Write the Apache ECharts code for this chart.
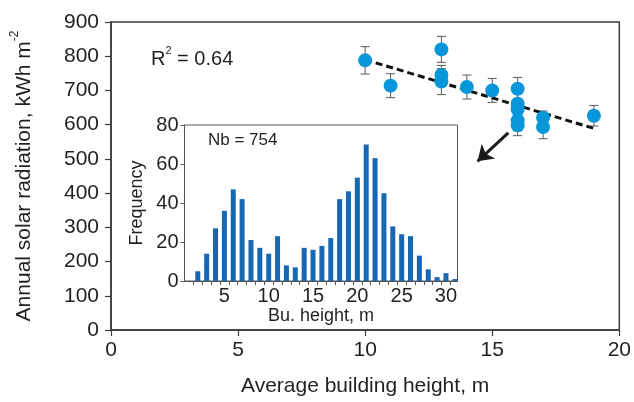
<!DOCTYPE html>
<html><head><meta charset="utf-8">
<script src="https://cdn.jsdelivr.net/npm/echarts@6/dist/echarts.min.js"></script>
<style>html,body{margin:0;padding:0;background:#fff}#c{width:634px;height:402px}</style>
</head><body><div id="c"></div>
<script>
// Main scatter: average building height vs annual solar radiation
const mainX = [10, 11, 13, 13, 13, 14, 15, 16, 16, 16, 16, 16, 17, 17, 19];
const mainY = [788, 714, 820, 745, 726, 710, 700, 705, 661, 645, 612, 598, 620, 593, 626];
const mainErr = [40, 35, 38, 28, 38, 35, 35, 33, 30, 30, 30, 30, 20, 34, 30];
const fitX = [10, 19];
const fitY = [790, 589];
const arrowX = [15.63, 14.42];
const arrowY = [576, 493];
const mainXTicks = [0, 5, 10, 15, 20];
const mainYTicks = [0, 100, 200, 300, 400, 500, 600, 700, 800, 900];
// Inset histogram
const binCenters = [2,3,4,5,6,7,8,9,10,11,12,13,14,15,16,17,18,19,20,21,22,23,24,25,26,27,28,29,30,31];
const binCounts = [5,14,27,36,47,42,21,17,14,23,8,7,17,16,18,22,42,46,53,70,63,45,28,24,23,13,6,2,4,1];
const insetXLabels = [5, 10, 15, 20, 25, 30];
const insetYTicks = [0, 20, 40, 60, 80];

const FONT = 'Liberation Sans, Arial, sans-serif';
const TXT = '#231f20';
const AX = '#3a3a3a';

const chart = echarts.init(document.getElementById('c'), null, {renderer: 'canvas'});

const scatterData = mainX.map((x, i) => [x, mainY[i]]);
const errData = mainX.map((x, i) => [x, mainY[i] - mainErr[i], mainY[i] + mainErr[i]]);
const binEdges = binCenters.map(b => b - 0.5).concat([binCenters[binCenters.length - 1] + 0.5]);

chart.setOption({
  animation: false,
  backgroundColor: '#fff',
  textStyle: {fontFamily: FONT, color: TXT},
  grid: [
    {left: 111, top: 22, width: 510, height: 308.5, show: true, borderColor: AX, borderWidth: 1.5, backgroundColor: 'transparent'},
    {left: 184.5, top: 125, width: 273, height: 156, show: true, borderColor: '#555', borderWidth: 1, backgroundColor: '#fff'}
  ],
  xAxis: [
    {
      gridIndex: 0, type: 'value', min: mainXTicks[0], max: mainXTicks[mainXTicks.length - 1], interval: 5,
      axisLine: {show: true, lineStyle: {color: AX, width: 1.5}},
      axisTick: {show: true, inside: false, length: 6, lineStyle: {color: AX, width: 1.2}},
      axisLabel: {fontSize: 21, color: TXT, margin: 10, fontFamily: FONT},
      splitLine: {show: false},
      name: 'Average building height, m', nameLocation: 'middle', nameGap: 46,
      nameTextStyle: {fontSize: 21, color: TXT, fontFamily: FONT}
    },
    {
      gridIndex: 1, type: 'value', min: 0.5, max: 31.3,
      axisLine: {show: true, lineStyle: {color: '#555', width: 1}},
      axisTick: {show: true, inside: false, length: 4, lineStyle: {color: '#555', width: 1}, customValues: binEdges},
      axisLabel: {fontSize: 20, color: TXT, margin: 5, fontFamily: FONT, customValues: insetXLabels},
      splitLine: {show: false},
      name: 'Bu. height, m', nameLocation: 'middle', nameGap: 24,
      nameTextStyle: {fontSize: 18, color: TXT, fontFamily: FONT}
    }
  ],
  yAxis: [
    {
      gridIndex: 0, type: 'value', min: mainYTicks[0], max: mainYTicks[mainYTicks.length - 1], interval: 100,
      axisLine: {show: true, lineStyle: {color: AX, width: 1.5}},
      axisTick: {show: true, inside: false, length: 6, lineStyle: {color: AX, width: 1.2}},
      axisLabel: {fontSize: 21, color: TXT, margin: 12, fontFamily: FONT},
      splitLine: {show: false},
      name: '{a|Annual solar radiation, kWh m}{s|-2}', nameLocation: 'middle', nameGap: 76, nameRotate: 90,
      nameTextStyle: {
        fontSize: 21, color: TXT, fontFamily: FONT,
        rich: {
          a: {fontSize: 21, color: TXT, fontFamily: FONT, lineHeight: 26, verticalAlign: 'bottom'},
          s: {fontSize: 12, color: TXT, fontFamily: FONT, lineHeight: 26, verticalAlign: 'top'}
        }
      }
    },
    {
      gridIndex: 1, type: 'value', min: insetYTicks[0], max: insetYTicks[insetYTicks.length - 1], interval: 20,
      axisLine: {show: true, lineStyle: {color: '#555', width: 1}},
      axisTick: {show: true, inside: false, length: 4, lineStyle: {color: '#555', width: 1}},
      axisLabel: {fontSize: 20, color: TXT, margin: 6, fontFamily: FONT},
      splitLine: {show: false},
      name: 'Frequency', nameLocation: 'middle', nameGap: 38, nameRotate: 90,
      nameTextStyle: {fontSize: 18, color: TXT, fontFamily: FONT}
    }
  ],
  series: [
    {
      type: 'custom', xAxisIndex: 0, yAxisIndex: 0, z: 2,
      data: errData,
      renderItem: function (params, api) {
        const x = api.value(0);
        const lo = api.coord([x, api.value(1)]);
        const hi = api.coord([x, api.value(2)]);
        const hw = 4.5;
        const st = {stroke: '#666', lineWidth: 1.1};
        return {
          type: 'group',
          children: [
            {type: 'line', shape: {x1: lo[0], y1: lo[1], x2: hi[0], y2: hi[1]}, style: st},
            {type: 'line', shape: {x1: lo[0] - hw, y1: lo[1], x2: lo[0] + hw, y2: lo[1]}, style: st},
            {type: 'line', shape: {x1: hi[0] - hw, y1: hi[1], x2: hi[0] + hw, y2: hi[1]}, style: st}
          ]
        };
      }
    },
    {
      type: 'line', xAxisIndex: 0, yAxisIndex: 0, z: 3,
      data: fitX.map((x, i) => [x, fitY[i]]),
      symbol: 'none',
      lineStyle: {color: '#111', width: 3, type: [7, 4]}
    },
    {
      type: 'scatter', xAxisIndex: 0, yAxisIndex: 0, z: 4,
      data: scatterData,
      symbol: 'circle', symbolSize: 14,
      itemStyle: {color: '#0896da', opacity: 1}
    },
    {
      type: 'lines', coordinateSystem: 'cartesian2d', xAxisIndex: 0, yAxisIndex: 0, z: 5,
      symbol: ['none', 'arrow'], symbolSize: [13, 15],
      lineStyle: {color: '#1a1a1a', width: 3, opacity: 1, curveness: 0},
      data: [{coords: [[arrowX[0], arrowY[0]], [arrowX[1], arrowY[1]]]}]
    },
    {
      type: 'bar', xAxisIndex: 1, yAxisIndex: 1, z: 6,
      data: binCenters.map((b, i) => [b, binCounts[i]]),
      barWidth: 5,
      itemStyle: {color: '#1767b3'}
    }
  ],
  graphic: [
    {
      type: 'text', left: 151, top: 45, z: 10,
      style: {
        text: '{a|R}{s|2}{a| = 0.64}',
        fontFamily: FONT,
        rich: {
          a: {fontSize: 20, fill: TXT, fontFamily: FONT, lineHeight: 24, verticalAlign: 'bottom'},
          s: {fontSize: 11, fill: TXT, fontFamily: FONT, lineHeight: 24, verticalAlign: 'top'}
        }
      }
    },
    {
      type: 'text', left: 208, top: 132, z: 10,
      style: {text: 'Nb = 754', fontSize: 17, fill: TXT, fontFamily: FONT}
    }
  ]
});
</script>
</body></html>
